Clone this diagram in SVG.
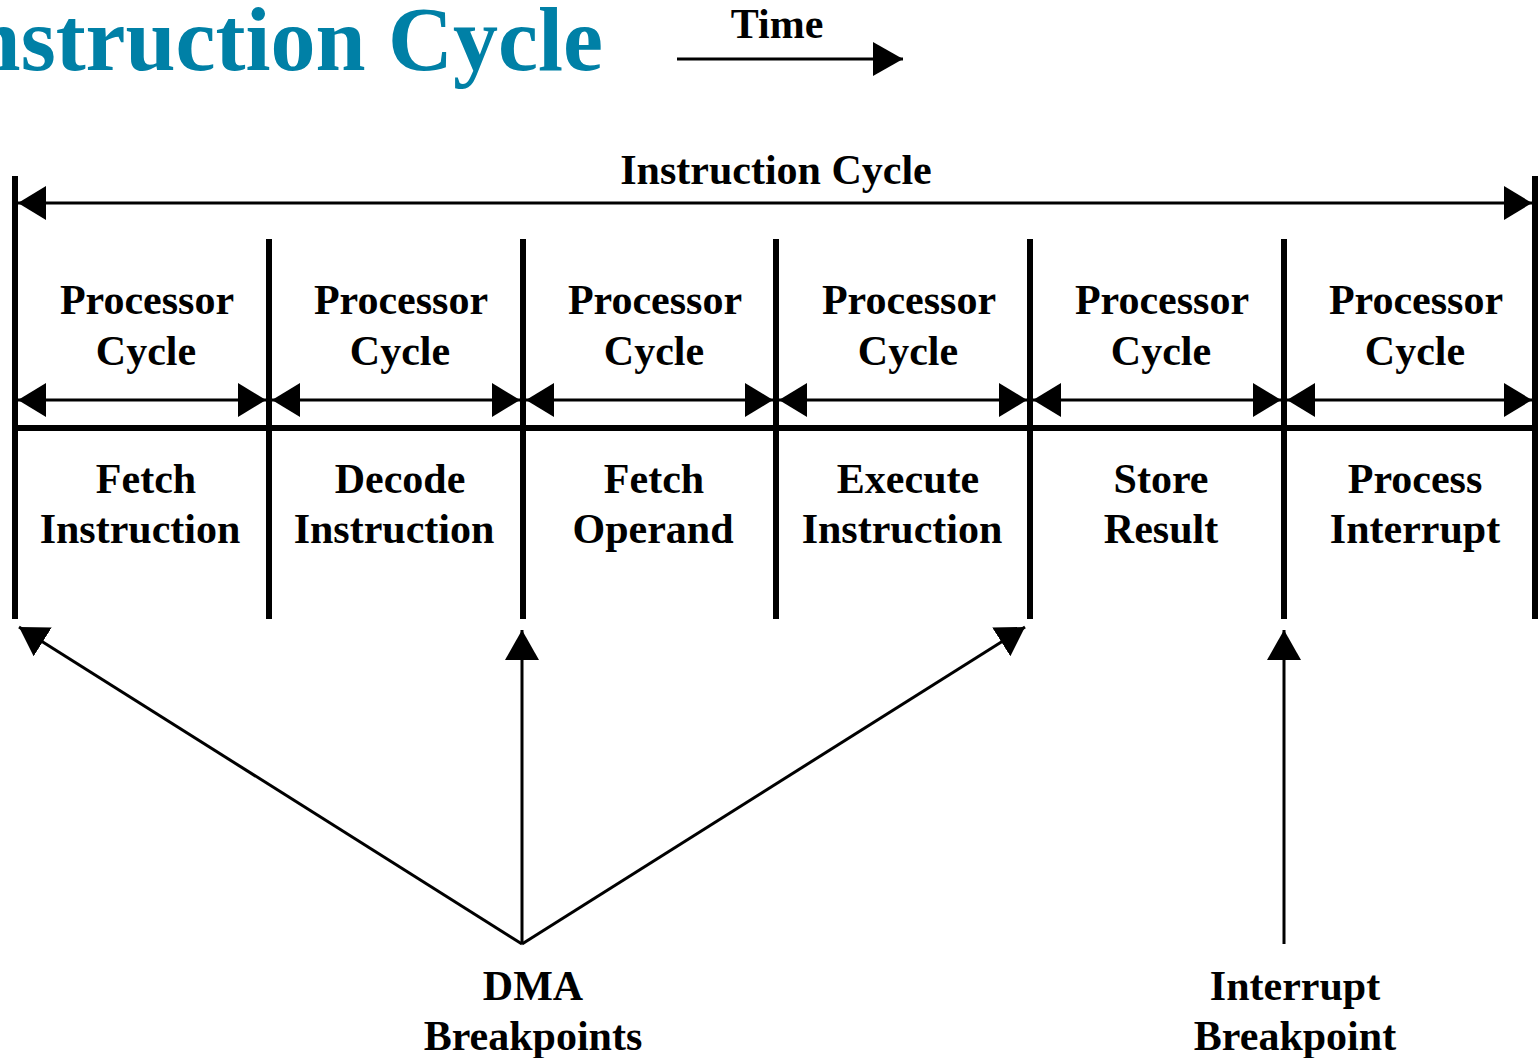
<svg xmlns="http://www.w3.org/2000/svg" width="1538" height="1058" viewBox="0 0 1538 1058">
<defs>
<style>
.t{font-family:"Liberation Serif","Times New Roman",serif;font-weight:bold;fill:#000;text-anchor:middle;font-size:42px}
.title{font-family:"Liberation Serif","Times New Roman",serif;font-weight:bold;fill:#0080A6;font-size:90px;text-anchor:end}
.thick{stroke:#000;stroke-width:6;fill:none}
.ln{stroke:#000;stroke-width:3;fill:none}
</style>
<marker id="ah" markerUnits="userSpaceOnUse" viewBox="0 0 28 34" refX="28" refY="17" markerWidth="28" markerHeight="34" orient="auto-start-reverse">
<path d="M0,0 L28,17 L0,34 z" fill="#000"/>
</marker>
<marker id="ah2" markerUnits="userSpaceOnUse" viewBox="0 0 30 34" refX="30" refY="17" markerWidth="30" markerHeight="34" orient="auto-start-reverse">
<path d="M0,0 L30,17 L0,34 z" fill="#000"/>
</marker>
</defs>
<rect width="1538" height="1058" fill="#fff"/>
<text class="title" x="603" y="70">Instruction Cycle</text>
<g id="time">
<text class="t" x="777" y="38">Time</text>
<line class="ln" x1="677" y1="59" x2="903" y2="59" marker-end="url(#ah2)"/>
</g>
<g id="instruction-cycle">
<text class="t" x="776" y="184">Instruction Cycle</text>
</g>
<g id="frame">
<line class="thick" x1="15" y1="176" x2="15" y2="619"/>
<line class="thick" x1="1535" y1="176" x2="1535" y2="619"/>
<line class="thick" x1="269" y1="239" x2="269" y2="619"/>
<line class="thick" x1="523" y1="239" x2="523" y2="619"/>
<line class="thick" x1="776" y1="239" x2="776" y2="619"/>
<line class="thick" x1="1030" y1="239" x2="1030" y2="619"/>
<line class="thick" x1="1284" y1="239" x2="1284" y2="619"/>
<line class="thick" x1="15" y1="428" x2="1535" y2="428"/>
</g>
<g id="pc1"><text class="t" x="147" y="314">Processor</text><text class="t" x="146" y="365">Cycle</text><text class="t" x="146" y="493">Fetch</text><text class="t" x="140" y="543">Instruction</text></g>
<g id="pc2"><text class="t" x="401" y="314">Processor</text><text class="t" x="400" y="365">Cycle</text><text class="t" x="400" y="493">Decode</text><text class="t" x="394" y="543">Instruction</text></g>
<g id="pc3"><text class="t" x="655" y="314">Processor</text><text class="t" x="654" y="365">Cycle</text><text class="t" x="654" y="493">Fetch</text><text class="t" x="653" y="543">Operand</text></g>
<g id="pc4"><text class="t" x="909" y="314">Processor</text><text class="t" x="908" y="365">Cycle</text><text class="t" x="908" y="493">Execute</text><text class="t" x="902" y="543">Instruction</text></g>
<g id="pc5"><text class="t" x="1162" y="314">Processor</text><text class="t" x="1161" y="365">Cycle</text><text class="t" x="1161" y="493">Store</text><text class="t" x="1161" y="543">Result</text></g>
<g id="pc6"><text class="t" x="1416" y="314">Processor</text><text class="t" x="1415" y="365">Cycle</text><text class="t" x="1415" y="493">Process</text><text class="t" x="1415" y="543">Interrupt</text></g>
<g id="dma"><text class="t" x="533" y="1000">DMA</text><text class="t" x="533" y="1050">Breakpoints</text></g>
<g id="intr"><text class="t" x="1295" y="1000">Interrupt</text><text class="t" x="1295" y="1050">Breakpoint</text></g>
<g id="connectors">
<line class="ln" x1="18" y1="203" x2="1532" y2="203" marker-start="url(#ah)" marker-end="url(#ah)"/>
<line class="ln" x1="18" y1="400" x2="266" y2="400" marker-start="url(#ah)" marker-end="url(#ah)"/>
<line class="ln" x1="272" y1="400" x2="520" y2="400" marker-start="url(#ah)" marker-end="url(#ah)"/>
<line class="ln" x1="526" y1="400" x2="773" y2="400" marker-start="url(#ah)" marker-end="url(#ah)"/>
<line class="ln" x1="779" y1="400" x2="1027" y2="400" marker-start="url(#ah)" marker-end="url(#ah)"/>
<line class="ln" x1="1033" y1="400" x2="1281" y2="400" marker-start="url(#ah)" marker-end="url(#ah)"/>
<line class="ln" x1="1287" y1="400" x2="1532" y2="400" marker-start="url(#ah)" marker-end="url(#ah)"/>
<line class="ln" x1="522" y1="944" x2="19" y2="627" marker-end="url(#ah)"/>
<line class="ln" x1="522" y1="944" x2="522" y2="630" marker-end="url(#ah2)"/>
<line class="ln" x1="522" y1="944" x2="1025" y2="627" marker-end="url(#ah)"/>
<line class="ln" x1="1284" y1="944" x2="1284" y2="630" marker-end="url(#ah2)"/>
</g>
</svg>
